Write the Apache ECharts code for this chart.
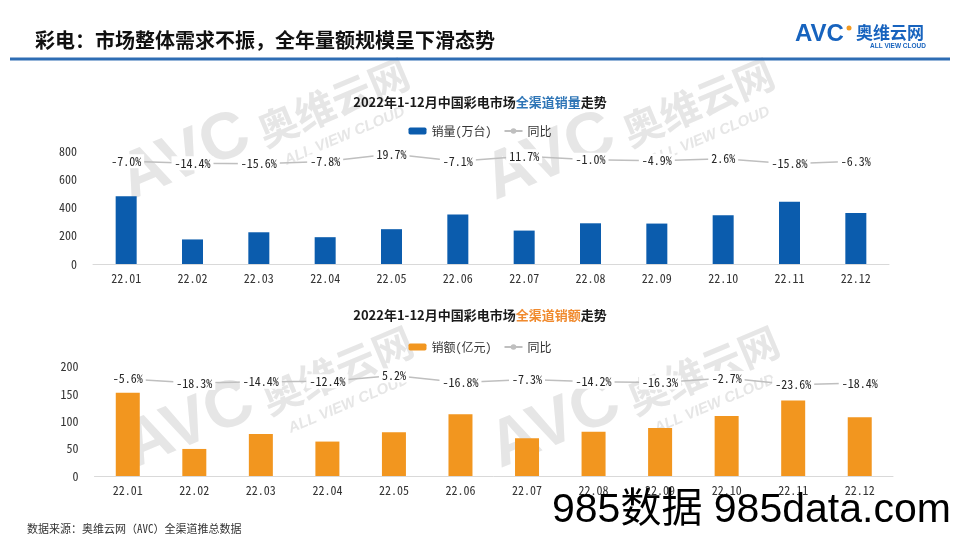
<!DOCTYPE html>
<html><head><meta charset="utf-8">
<script src="https://cdn.jsdelivr.net/npm/echarts/dist/echarts.min.js"></script>
<style>html,body{margin:0;padding:0;background:#fff}#c{width:960px;height:540px}</style>
</head><body><div id="c"></div>
<script>
// ---- data ----
const months = ['22.01','22.02','22.03','22.04','22.05','22.06','22.07','22.08','22.09','22.10','22.11','22.12'];
const salesVolume = [483, 175, 226, 191, 248, 352, 238, 290, 288, 347, 444, 363];   // 万台
const volumeYoY   = [-7.0, -14.4, -15.6, -7.8, 19.7, -7.1, 11.7, -1.0, -4.9, 2.6, -15.8, -6.3];
const salesValue  = [152.5, 49.5, 77, 63, 80, 113, 69, 81, 88, 110, 138, 107.5];  // 亿元
const valueYoY    = [-5.6, -18.3, -14.4, -12.4, 5.2, -16.8, -7.3, -14.2, -16.3, -2.7, -23.6, -18.4];
const volumeTicks = [0, 200, 400, 600, 800];
const valueTicks  = [0, 50, 100, 150, 200];
const volName = '销量(万台)', valName = '销额(亿元)', yoyName = '同比';

const MONO = "'Noto Sans Mono CJK SC','Noto Sans CJK SC',sans-serif";
const CJK = "'Noto Sans CJK SC','Noto Sans',sans-serif";
const chart = echarts.init(document.getElementById('c'), null, {renderer: 'canvas'});

function wm(x, y) {
  const c = '#e6e6e6';
  return {
    type: 'group', x: x, y: y, rotation: 0.4, z: 0, silent: true,
    children: [
      {type: 'text', x: 0, y: 0, style: {text: 'AVC', font: "bold 66px 'Liberation Sans'", fill: c, align: 'left', verticalAlign: 'bottom'}},
      {type: 'text', x: 145, y: -6, style: {text: '奥维云网', font: "bold 40px " + CJK, fill: c, align: 'left', verticalAlign: 'bottom'}},
      {type: 'text', x: 158, y: 2, style: {text: 'ALL VIEW CLOUD', font: "italic bold 15px 'Liberation Sans'", fill: c, align: 'left', verticalAlign: 'top'}}
    ]
  };
}

const yoyLabel = {
  show: true, position: 'inside', formatter: p => p.value.toFixed(1) + '%',
  fontFamily: MONO, fontSize: 12, color: '#262626', backgroundColor: '#fff', padding: [1, 3]
};
const catAxis = (gi) => ({
  type: 'category', gridIndex: gi, data: months,
  axisLine: {lineStyle: {color: '#d9d9d9', width: 1}}, axisTick: {show: false},
  axisLabel: {fontFamily: MONO, fontSize: 12, color: '#333', margin: 8}
});
const valAxis = (gi, ticks) => ({
  type: 'value', gridIndex: gi, min: ticks[0], max: ticks[ticks.length - 1], interval: ticks[1] - ticks[0],
  axisLine: {show: false}, axisTick: {show: false}, splitLine: {show: false},
  axisLabel: {fontFamily: MONO, fontSize: 12, color: '#333', margin: 16}
});
const hiddenAxis = (gi, mn, mx) => ({type: 'value', gridIndex: gi, min: mn, max: mx, show: false, splitLine: {show: false}});

chart.setOption({
  animation: false,
  backgroundColor: '#fff',
  title: [
    {text: '2022年1-12月中国彩电市场{b|全渠道销量}走势', left: 'center', top: 91,
     textStyle: {fontFamily: CJK, fontSize: 13, fontWeight: 'bold', color: '#1a1a1a',
       rich: {b: {fontFamily: CJK, fontSize: 13, fontWeight: 'bold', color: '#2E75B6'}}}},
    {text: '2022年1-12月中国彩电市场{b|全渠道销额}走势', left: 'center', top: 304,
     textStyle: {fontFamily: CJK, fontSize: 13, fontWeight: 'bold', color: '#1a1a1a',
       rich: {b: {fontFamily: CJK, fontSize: 13, fontWeight: 'bold', color: '#F08A2E'}}}}
  ],
  legend: [
    {data: [volName, yoyName], left: 'center', top: 120, itemWidth: 18, itemHeight: 7, itemGap: 12,
     textStyle: {fontFamily: MONO, fontSize: 12, color: '#333'}},
    {data: [valName, yoyName], left: 'center', top: 336, itemWidth: 18, itemHeight: 7, itemGap: 12,
     textStyle: {fontFamily: MONO, fontSize: 12, color: '#333'}}
  ],
  grid: [
    {left: 93, right: 71, top: 151.7, bottom: 276, containLabel: false},
    {left: 94.5, right: 67, top: 366.7, bottom: 64, containLabel: false}
  ],
  xAxis: [catAxis(0), catAxis(1)],
  yAxis: [valAxis(0, volumeTicks), hiddenAxis(0, -380, 28), valAxis(1, valueTicks), hiddenAxis(1, -304, 32)],
  series: [
    {name: volName, type: 'bar', xAxisIndex: 0, yAxisIndex: 0, data: salesVolume, barWidth: 21,
     itemStyle: {color: '#0B5CAD'}, z: 2},
    {name: yoyName, type: 'line', xAxisIndex: 0, yAxisIndex: 1, data: volumeYoY,
     symbol: 'circle', symbolSize: 5, itemStyle: {color: '#BFBFBF'}, lineStyle: {color: '#BFBFBF', width: 1.5},
     label: yoyLabel, z: 3},
    {name: valName, type: 'bar', xAxisIndex: 1, yAxisIndex: 2, data: salesValue, barWidth: 24,
     itemStyle: {color: '#F2961F'}, z: 2},
    {name: yoyName, type: 'line', xAxisIndex: 1, yAxisIndex: 3, data: valueYoY,
     symbol: 'circle', symbolSize: 5, itemStyle: {color: '#BFBFBF'}, lineStyle: {color: '#BFBFBF', width: 1.5},
     label: yoyLabel, z: 3}
  ],
  graphic: [
    wm(136, 214), wm(501, 214), wm(140, 482), wm(506, 482),
    {type: 'text', x: 35, y: 40, z: 10, style: {text: '彩电：市场整体需求不振，全年量额规模呈下滑态势', font: "bold 20px " + CJK, fill: '#111', align: 'left', verticalAlign: 'middle'}},
    {type: 'rect', x: 10, y: 57.5, z: 10, shape: {width: 940, height: 3}, style: {fill: '#2E6DB4'}},
    {type: 'text', x: 795, y: 34.5, z: 10, style: {text: 'AVC', font: "bold 24px 'Liberation Sans'", fill: '#1763BE', align: 'left', verticalAlign: 'middle'}},
    {type: 'circle', z: 11, shape: {cx: 849, cy: 28, r: 2.5}, style: {fill: '#F39A21'}},
    {type: 'text', x: 856, y: 33, z: 10, style: {text: '奥维云网', font: "bold 17px " + CJK, fill: '#1763BE', align: 'left', verticalAlign: 'middle'}},
    {type: 'text', x: 870, y: 46, z: 10, style: {text: 'ALL VIEW CLOUD', font: "bold 6.5px 'Liberation Sans'", fill: '#1763BE', align: 'left', verticalAlign: 'middle'}},
    {type: 'text', x: 27, y: 529, z: 10, style: {text: '数据来源：奥维云网（AVC）全渠道推总数据', font: "11px " + MONO, fill: '#333', align: 'left', verticalAlign: 'middle'}},
    {type: 'text', x: 552, y: 511, z: 100, style: {text: '985数据 985data.com', font: "41px 'Liberation Sans','Noto Sans CJK SC',sans-serif", fill: '#000', align: 'left', verticalAlign: 'middle'}}
  ]
});
</script></body></html>
